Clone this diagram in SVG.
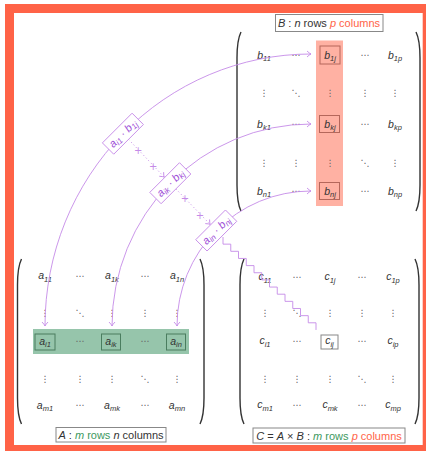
<svg xmlns="http://www.w3.org/2000/svg" width="426" height="451" viewBox="0 0 426 451">
<style>
.e{font-family:"Liberation Sans",Arial,sans-serif;font-style:italic;font-size:10.5px;fill:#333;text-anchor:middle}
.s{font-size:7.5px}
.d{font-family:"DejaVu Sans",sans-serif;font-size:9px;fill:#666;text-anchor:middle}
.par{fill:none;stroke:#333;stroke-width:1.4}
.lbl{fill:#fff;stroke:#888;stroke-width:1}
.lt{font-family:"Liberation Sans",Arial,sans-serif;font-size:11px;fill:#333;text-anchor:middle}
.i{font-style:italic}
.g{fill:#3d9960}
.r{fill:#ff6347}
.arc{fill:none;stroke:#c58be8;stroke-width:0.9;marker-start:url(#arr);marker-end:url(#arr)}
.pb{fill:#fff;stroke:#c58be8;stroke-width:0.9}
.pt{font-family:"Liberation Sans",Arial,sans-serif;font-style:italic;font-size:11px;fill:#a050d8;text-anchor:middle}
.ps{font-size:8px}
.dot{fill:none;stroke:#c58be8;stroke-width:1;stroke-dasharray:1 2.6;marker-end:url(#arr)}
.plus{font-family:"DejaVu Sans",sans-serif;font-size:10px;fill:#c58be8;text-anchor:middle}
.bx{fill:none;stroke-width:1}
</style>
<defs>
<marker id="arr" viewBox="-5 -4 6 8" refX="0" refY="0" markerWidth="6" markerHeight="8" markerUnits="userSpaceOnUse" orient="auto-start-reverse"><path d="M-4,-3 Q-1.5,-0.6 0,0 Q-1.5,0.6 -4,3" fill="none" stroke="#c58be8" stroke-width="0.9"/></marker>
</defs>
<rect width="426" height="451" fill="#fff"/>
<rect x="9.5" y="8.5" width="417.7" height="441" fill="none" stroke="#ff6347" stroke-width="9"/>

<g id="matrixB">
<rect x="316" y="40.5" width="27" height="165.5" fill="#ff6347" fill-opacity="0.5"/>
<path class="par" d="M241 32 C238 38 237 46 237 58 L237 185 C237 197 238 205 241 211"/>
<path class="par" d="M416 32 C419 38 420 46 420 58 L420 185 C420 197 419 205 416 211"/>
<rect class="bx" x="320" y="46" width="20" height="18" stroke="#b5675b"/>
<rect class="bx" x="319.5" y="115.5" width="20" height="17" stroke="#b5675b"/>
<rect class="bx" x="319.5" y="182.5" width="20" height="17" stroke="#b5675b"/>
<text class="e" x="264" y="58.5">b<tspan class="s" dy="2.5">11</tspan></text>
<text class="d" x="296" y="58">⋯</text>
<text class="e" x="330" y="58.5">b<tspan class="s" dy="2.5">1j</tspan></text>
<text class="d" x="365" y="58">⋯</text>
<text class="e" x="395" y="58.5">b<tspan class="s" dy="2.5">1p</tspan></text>
<text class="d" x="264" y="96">⋮</text>
<text class="d" x="296" y="96">⋱</text>
<text class="d" x="330" y="96">⋮</text>
<text class="d" x="365" y="96">⋮</text>
<text class="d" x="395" y="96">⋮</text>
<text class="e" x="264" y="127.5">b<tspan class="s" dy="2.5">k1</tspan></text>
<text class="d" x="296" y="127">⋯</text>
<text class="e" x="330" y="127.5">b<tspan class="s" dy="2.5">kj</tspan></text>
<text class="d" x="365" y="127">⋯</text>
<text class="e" x="395" y="127.5">b<tspan class="s" dy="2.5">kp</tspan></text>
<text class="d" x="264" y="166">⋮</text>
<text class="d" x="296" y="166">⋮</text>
<text class="d" x="330" y="166">⋮</text>
<text class="d" x="365" y="166">⋱</text>
<text class="d" x="395" y="166">⋮</text>
<text class="e" x="264" y="194.5">b<tspan class="s" dy="2.5">n1</tspan></text>
<text class="d" x="296" y="194">⋯</text>
<text class="e" x="330" y="194.5">b<tspan class="s" dy="2.5">nj</tspan></text>
<text class="d" x="365" y="194">⋯</text>
<text class="e" x="395" y="194.5">b<tspan class="s" dy="2.5">np</tspan></text>
</g>
<g id="labelB">
<rect class="lbl" x="275.5" y="14.5" width="107.5" height="17"/>
<text class="lt" x="329" y="27"><tspan class="i">B</tspan> : <tspan class="i">n</tspan> rows <tspan class="i r">p</tspan><tspan class="r"> columns</tspan></text>
</g>

<g id="matrixA">
<rect x="33" y="329" width="156" height="25" fill="#2e8b57" fill-opacity="0.5"/>
<path class="par" d="M21.5 259 C18.5 265 17.5 273 17.5 285 L17.5 398 C17.5 410 18.5 418 21.5 424"/>
<path class="par" d="M200 259 C203 265 204 273 204 285 L204 398 C204 410 203 418 200 424"/>
<rect class="bx" x="35" y="334" width="20" height="16" stroke="#4a7d5f"/>
<rect class="bx" x="101.5" y="334" width="19" height="16" stroke="#4a7d5f"/>
<rect class="bx" x="166.5" y="334" width="19" height="16" stroke="#4a7d5f"/>
<text class="e" x="45" y="279">a<tspan class="s" dy="2.5">11</tspan></text>
<text class="d" x="80" y="279">⋯</text>
<text class="e" x="112" y="279">a<tspan class="s" dy="2.5">1k</tspan></text>
<text class="d" x="145" y="279">⋯</text>
<text class="e" x="177" y="279">a<tspan class="s" dy="2.5">1n</tspan></text>
<text class="d" x="45" y="316">⋮</text>
<text class="d" x="80" y="316">⋱</text>
<text class="d" x="112" y="316">⋮</text>
<text class="d" x="145" y="316">⋮</text>
<text class="d" x="177" y="316">⋮</text>
<text class="e" x="45" y="344.5">a<tspan class="s" dy="2.5">i1</tspan></text>
<text class="d" x="80" y="344">⋯</text>
<text class="e" x="111" y="344.5">a<tspan class="s" dy="2.5">ik</tspan></text>
<text class="d" x="145" y="344">⋯</text>
<text class="e" x="176" y="344.5">a<tspan class="s" dy="2.5">in</tspan></text>
<text class="d" x="45" y="382">⋮</text>
<text class="d" x="80" y="382">⋮</text>
<text class="d" x="112" y="382">⋮</text>
<text class="d" x="145" y="382">⋱</text>
<text class="d" x="177" y="382">⋮</text>
<text class="e" x="45" y="408.5">a<tspan class="s" dy="2.5">m1</tspan></text>
<text class="d" x="80" y="408">⋯</text>
<text class="e" x="112" y="408.5">a<tspan class="s" dy="2.5">mk</tspan></text>
<text class="d" x="145" y="408">⋯</text>
<text class="e" x="177" y="408.5">a<tspan class="s" dy="2.5">mn</tspan></text>
</g>
<g id="labelA">
<rect class="lbl" x="56" y="427.5" width="110" height="14.5"/>
<text class="lt" x="111" y="439"><tspan class="i">A</tspan> : <tspan class="i g">m</tspan><tspan class="g"> rows</tspan> <tspan class="i">n</tspan> columns</text>
</g>

<g id="matrixC">
<path class="par" d="M244 259 C241 265 240 273 240 285 L240 398 C240 410 241 418 244 424"/>
<path class="par" d="M415 259 C418 265 419 273 419 285 L419 398 C419 410 418 418 415 424"/>
<rect class="bx" x="321" y="335" width="17" height="14" stroke="#888"/>
<text class="e" x="265" y="280">c<tspan class="s" dy="2.5">11</tspan></text>
<text class="d" x="297" y="280">⋯</text>
<text class="e" x="330" y="280">c<tspan class="s" dy="2.5">1j</tspan></text>
<text class="d" x="362" y="280">⋯</text>
<text class="e" x="393" y="280">c<tspan class="s" dy="2.5">1p</tspan></text>
<text class="d" x="265" y="316">⋮</text>
<text class="d" x="297" y="316">⋱</text>
<text class="d" x="330" y="316">⋮</text>
<text class="d" x="362" y="316">⋮</text>
<text class="d" x="393" y="316">⋮</text>
<text class="e" x="265" y="344">c<tspan class="s" dy="2.5">i1</tspan></text>
<text class="d" x="297" y="344">⋯</text>
<text class="e" x="329.5" y="344">c<tspan class="s" dy="2.5">ij</tspan></text>
<text class="d" x="362" y="344">⋯</text>
<text class="e" x="393" y="344">c<tspan class="s" dy="2.5">ip</tspan></text>
<text class="d" x="265" y="382">⋮</text>
<text class="d" x="297" y="382">⋮</text>
<text class="d" x="330" y="382">⋮</text>
<text class="d" x="362" y="382">⋱</text>
<text class="d" x="393" y="382">⋮</text>
<text class="e" x="265" y="408">c<tspan class="s" dy="2.5">m1</tspan></text>
<text class="d" x="297" y="408">⋯</text>
<text class="e" x="330" y="408">c<tspan class="s" dy="2.5">mk</tspan></text>
<text class="d" x="362" y="408">⋯</text>
<text class="e" x="393" y="408">c<tspan class="s" dy="2.5">mp</tspan></text>
</g>
<g id="labelC">
<rect class="lbl" x="253" y="428" width="152" height="15"/>
<text class="lt" x="329" y="440"><tspan class="i">C</tspan> = <tspan class="i">A</tspan> × <tspan class="i">B</tspan> : <tspan class="i g">m</tspan><tspan class="g"> rows</tspan> <tspan class="i r">p</tspan><tspan class="r"> columns</tspan></text>
</g>

<g id="connectors">
<path class="arc" d="M45 326 A266 272 0 0 1 311 54"/>
<path class="arc" d="M112 326 A199 202 0 0 1 311 124"/>
<path class="arc" d="M177 326 A134 135 0 0 1 311 191"/>
<path class="dot" d="M128.6 139.4 L164.2 177.1"/>
<text class="plus" x="138.3" y="153.5">+</text>
<text class="plus" x="153.3" y="170.2">+</text>
<path class="dot" d="M175.9 188.9 L210.2 224.4"/>
<text class="plus" x="185" y="201.8">+</text>
<text class="plus" x="200" y="218.5">+</text>
<path fill="none" stroke="#c58be8" stroke-width="0.9" d="M223 237 v7.15 h7.75 v7.15 h7.75 v7.15 h7.75 v7.15 h7.75 v7.15 h7.75 v7.15 h7.75 v7.15 h7.75 v7.15 h7.75 v7.15 h7.75 v7.15 h7.75 v7.15 h7.75 v7.15 h7.75 v7.15"/>
</g>

<g id="prod1" transform="translate(122.9,133.7) rotate(-45)">
<rect class="pb" x="-21" y="-8" width="42" height="16"/>
<text class="pt" y="3.5">a<tspan class="ps" dy="2">i1</tspan><tspan dy="-2"> · b</tspan><tspan class="ps" dy="2">1j</tspan></text>
</g>
<g id="prod2" transform="translate(170.3,183.2) rotate(-45)">
<rect class="pb" x="-21" y="-8" width="42" height="16"/>
<text class="pt" y="3.5">a<tspan class="ps" dy="2">ik</tspan><tspan dy="-2"> · b</tspan><tspan class="ps" dy="2">kj</tspan></text>
</g>
<g id="prod3" transform="translate(216.25,230.5) rotate(-45)">
<rect class="pb" x="-21" y="-8" width="42" height="16"/>
<text class="pt" y="3.5">a<tspan class="ps" dy="2">in</tspan><tspan dy="-2"> · b</tspan><tspan class="ps" dy="2">nj</tspan></text>
</g>
</svg>
